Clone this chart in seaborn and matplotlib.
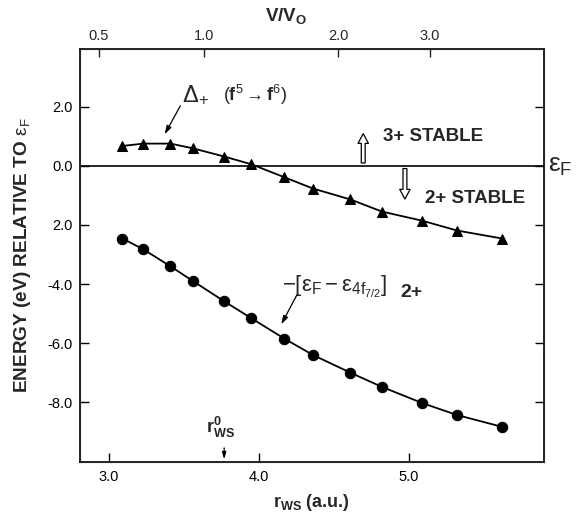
import numpy as np
import pandas as pd
import matplotlib
matplotlib.use("Agg")
import matplotlib.pyplot as plt
import seaborn as sns

# ---- data ----
r_ws = [3.09, 3.23, 3.41, 3.56, 3.77, 3.95, 4.17, 4.36, 4.61, 4.82, 5.09, 5.32, 5.62]
delta_plus = [0.67, 0.75, 0.75, 0.59, 0.31, 0.05, -0.39, -0.77, -1.14, -1.55, -1.86, -2.19, -2.46]
ef_minus_e4f = [-2.46, -2.83, -3.40, -3.90, -4.59, -5.16, -5.85, -6.40, -7.00, -7.48, -8.03, -8.43, -8.83]

y_ticks = [2.0, 0.0, -2.0, -4.0, -6.0, -8.0]
y_ticklabels = ["2.0", "0.0", "2.0", "-4.0", "-6.0", "-8.0"]
x_ticks = [3.0, 4.0, 5.0]
x_ticklabels = ["3.0", "4.0", "5.0"]
top_ticklabels = ["0.5", "1.0", "2.0", "3.0"]
top_tick_r = [2.933, 3.633, 4.527, 5.14]
r_ws0 = 3.768

sns.set_style("ticks")
plt.rcParams["font.family"] = ["Liberation Sans", "DejaVu Sans"]
plt.rcParams["mathtext.fontset"] = "custom"
plt.rcParams["mathtext.rm"] = "Liberation Sans"
plt.rcParams["mathtext.it"] = "Liberation Sans"
plt.rcParams["mathtext.bf"] = "Liberation Sans:bold"

df = pd.DataFrame({"r": r_ws, "delta": delta_plus, "ef": ef_minus_e4f})

fig = plt.figure(figsize=(5.76, 5.19), dpi=100)
ax = fig.add_axes([80 / 576, 1 - 462 / 519, (544 - 80) / 576, (462 - 49) / 519])

sns.lineplot(data=df, x="r", y="delta", ax=ax, color="black", lw=1.3,
             marker="^", markersize=7, markeredgecolor="black", markerfacecolor="black")
sns.lineplot(data=df, x="r", y="ef", ax=ax, color="black", lw=1.3,
             marker="o", markersize=7.5, markeredgecolor="black", markerfacecolor="black")

ax.set_xlim(2.807, 5.90)
ax.set_ylim(-10.02, 3.95)
ax.axhline(0.0, color="black", lw=1.2)

ax.set_xticks(x_ticks)
ax.set_xticklabels(x_ticklabels)
ax.set_yticks(y_ticks)
ax.set_yticklabels(y_ticklabels)
ax.tick_params(direction="in", length=6.5, width=1.0, labelsize=10.5, pad=6,
               right=True, colors="black")
ax.tick_params(axis="y", pad=5)
for s in ax.spines.values():
    s.set_visible(True)
    s.set_linewidth(1.2)
    s.set_color("black")

ax.set_xlabel(r"$\mathbf{r_{WS}}$ (a.u.)", fontsize=13, fontweight="bold")
ax.xaxis.set_label_coords(0.499, -0.072)
ax.set_ylabel(r"ENERGY (eV) RELATIVE TO $\varepsilon_{\rm F}$", fontsize=13.7,
              fontweight="bold")
ax.yaxis.set_label_coords(-0.101, 0.50)

ax2 = ax.twiny()
ax2.set_xlim(ax.get_xlim())
ax2.set_xticks(top_tick_r)
ax2.set_xticklabels(top_ticklabels)
ax2.tick_params(direction="in", length=6, width=1.0, labelsize=10.5, pad=4)
ax2.set_xlabel(r"$\mathbf{V/V_O}$", fontsize=13.5, fontweight="bold")
ax2.xaxis.set_label_coords(0.444, 1.068)

# annotations
ax.text(3.49, 2.40, r"$\Delta_{\!+}$", fontsize=17, ha="left", va="center")
ax.text(3.76, 2.39, r"($\mathbf{f}^5\rightarrow\mathbf{f}^6$)", fontsize=13,
        ha="left", va="center")
ax.annotate("", xy=(3.362, 0.98), xytext=(3.485, 2.11),
            arrowprops=dict(arrowstyle="-|>,head_length=0.5,head_width=0.15",
                            color="black", lw=0.9))

hollow = "simple,head_length=0.7,head_width=0.75,tail_width=0.28"
ax.annotate("", xy=(4.695, 1.18), xytext=(4.695, 0.0),
            arrowprops=dict(arrowstyle=hollow, fc="white", ec="black", lw=0.9))
ax.text(4.825, 0.98, "3+ STABLE", fontsize=13.5, fontweight="bold", ha="left", va="center")
ax.annotate("", xy=(4.973, -1.22), xytext=(4.973, 0.0),
            arrowprops=dict(arrowstyle=hollow, fc="white", ec="black", lw=0.9))
ax.text(5.107, -1.10, "2+ STABLE", fontsize=13.5, fontweight="bold", ha="left", va="center")

ax.text(1.008, 0.0, r"$\varepsilon_{\rm F}$", transform=ax.get_yaxis_transform(),
        fontsize=19, ha="left", va="center")

ax.text(4.155, -4.10, r"$-[\varepsilon_{\rm F}-\varepsilon_{4f_{7/2}}]$", fontsize=16,
        ha="left", va="center")
ax.text(4.94, -4.28, "2+", fontsize=14, fontweight="bold", ha="left", va="center")
ax.annotate("", xy=(4.14, -5.45), xytext=(4.262, -4.28),
            arrowprops=dict(arrowstyle="-|>,head_length=0.5,head_width=0.15",
                            color="black", lw=0.9))

ax.text(3.65, -8.85, r"$\mathbf{r^0_{WS}}$", fontsize=13, ha="left", va="center")
ax.annotate("", xy=(r_ws0, -10.02), xytext=(r_ws0, -9.45),
            arrowprops=dict(arrowstyle="-|>,head_length=0.4,head_width=0.12",
                            color="black", lw=0.9))

fig.savefig("out.png", dpi=100)
